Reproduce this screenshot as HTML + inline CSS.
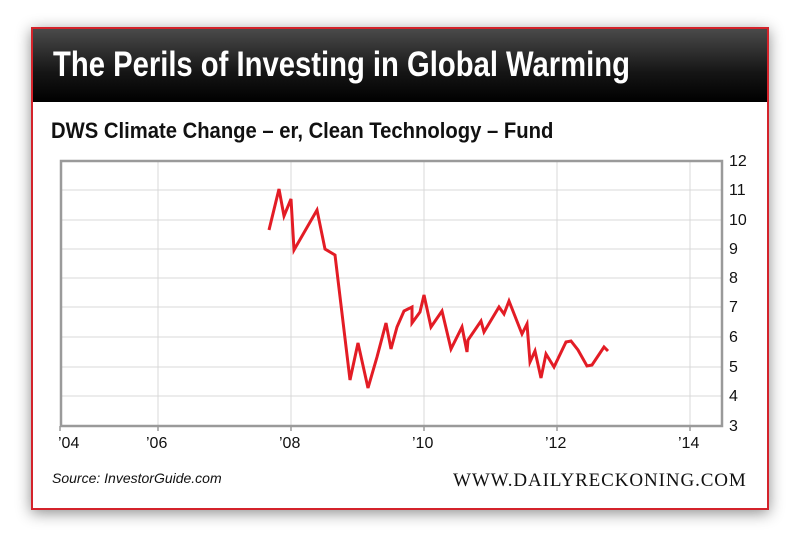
<!DOCTYPE html>
<html><head><style>
body{margin:0;width:800px;height:537px;background:#fff;position:relative;overflow:hidden;font-family:"Liberation Sans",sans-serif}
#card{position:absolute;left:31px;top:27px;width:734px;height:479px;border:2.5px solid #d4232b;background:#fff;box-shadow:0 3px 14px rgba(0,0,0,.45)}
#hdr{position:absolute;left:0;top:0;width:734px;height:73px;background:linear-gradient(#4a4a4a,#151515 60%,#000)}
#hdr div{position:absolute;left:20px;top:16px;color:#fff;font:bold 35px "Liberation Sans",sans-serif;transform:scaleX(0.835);transform-origin:0 0;white-space:nowrap}
#sub{position:absolute;left:51px;top:118px;font:bold 22px "Liberation Sans",sans-serif;color:#111;transform:scaleX(0.92);transform-origin:0 0;white-space:nowrap}
.src{position:absolute;left:52px;top:470px;font:italic 14px "Liberation Sans",sans-serif;color:#111}
.www{position:absolute;left:453px;top:470px;font:19px "Liberation Serif",serif;color:#111;letter-spacing:0.9px}
</style></head><body>
<div id="card"><div id="hdr"><div>The Perils of Investing in Global Warming</div></div></div>
<div id="sub">DWS Climate Change – er, Clean Technology – Fund</div>
<svg style="position:absolute;left:0;top:0" width="800" height="537">
<g stroke="#d8d8d8" stroke-width="1">
<line x1="60" x2="722" y1="190" y2="190"/><line x1="60" x2="722" y1="220" y2="220"/><line x1="60" x2="722" y1="249" y2="249"/><line x1="60" x2="722" y1="278" y2="278"/><line x1="60" x2="722" y1="307" y2="307"/><line x1="60" x2="722" y1="337" y2="337"/><line x1="60" x2="722" y1="367" y2="367"/><line x1="60" x2="722" y1="396" y2="396"/>
<line x1="158" x2="158" y1="161" y2="426"/><line x1="291" x2="291" y1="161" y2="426"/><line x1="424" x2="424" y1="161" y2="426"/><line x1="557" x2="557" y1="161" y2="426"/><line x1="690" x2="690" y1="161" y2="426"/>
</g>
<rect x="61" y="161" width="661" height="265" fill="none" stroke="#9a9a9a" stroke-width="2.5"/>
<g stroke="#9a9a9a" stroke-width="1.5"><line x1="60" x2="60" y1="426" y2="431"/><line x1="158" x2="158" y1="426" y2="431"/><line x1="291" x2="291" y1="426" y2="431"/><line x1="424" x2="424" y1="426" y2="431"/><line x1="557" x2="557" y1="426" y2="431"/><line x1="690" x2="690" y1="426" y2="431"/></g>
<polyline fill="none" stroke="#e31c25" stroke-width="3" stroke-linejoin="miter" points="269,230 279,189 284,216 291,199 294,250 317,210 325,249 335,255 350,380 358,343 368,388 377,357 386,323 391,349 397,327 404,311 412,307 412,323 420,312 424,295 431,327 442,311 451,349 462,327 467,352 468,340 481,321 484,332 499,307 504,314 509,301 522,334 527,324 530,362 535,351 541,378 546,354 554,367 566,342 571,341 578,350 587,366 592,365 604,347 608,351"/>
<g font-family="Liberation Sans,sans-serif" font-size="16" fill="#111">
<text x="729" y="166">12</text><text x="729" y="195">11</text><text x="729" y="225">10</text><text x="729" y="254">9</text><text x="729" y="283">8</text><text x="729" y="312">7</text><text x="729" y="342">6</text><text x="729" y="372">5</text><text x="729" y="401">4</text><text x="729" y="431">3</text>
<text x="58" y="448">’04</text><text x="146" y="448">’06</text><text x="279" y="448">’08</text><text x="412" y="448">’10</text><text x="545" y="448">’12</text><text x="678" y="448">’14</text>
</g>
</svg>
<div class="src">Source: InvestorGuide.com</div>
<div class="www">WWW.DAILYRECKONING.COM</div>
</body></html>
